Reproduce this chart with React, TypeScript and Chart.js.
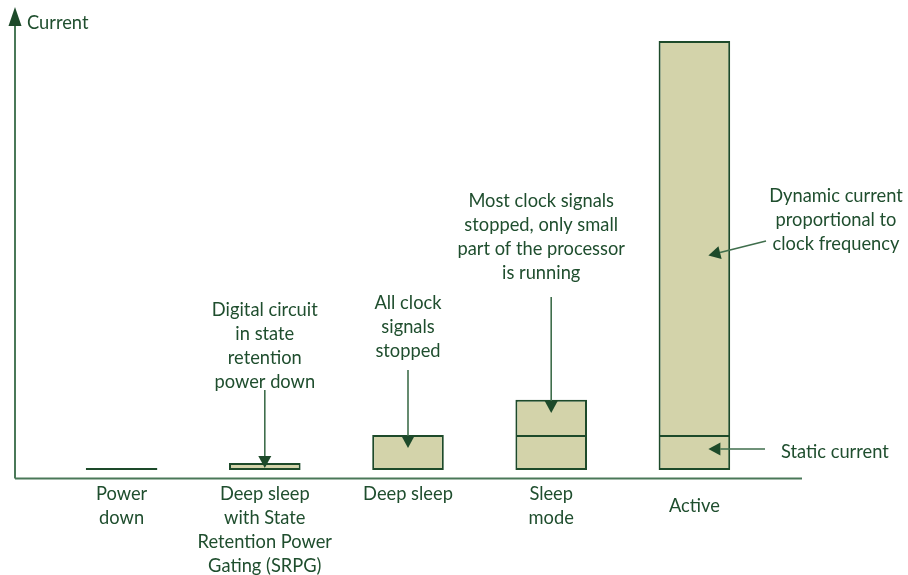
import React, { useEffect, useRef } from "react";
import { Chart, registerables } from "chart.js";

Chart.register(...registerables);

const categories = ["Power down", "Deep sleep with SRPG", "Deep sleep", "Sleep mode", "Active"];
const categoryLabelLines = [
  ["Power", "down"],
  ["Deep sleep", "with State", "Retention Power", "Gating (SRPG)"],
  ["Deep sleep"],
  ["Sleep", "mode"],
  ["Active"],
];
const staticCurrent = [0.2, 0.7, 3.5, 3.5, 3.5];
const dynamicCurrent = [null, null, null, 3.5, 39.3];

const yAxisTitle = "Current";
const noteSRPG = ["Digital circuit", "in state", "retention", "power down"];
const noteDeepSleep = ["All clock", "signals", "stopped"];
const noteSleep = ["Most clock signals", "stopped, only small", "part of the processor", "is running"];
const noteDynamic = ["Dynamic current", "proportional to", "clock frequency"];
const noteStatic = "Static current";

const DARK = "#1d4a2a";
const TEXT = "#1f4e2e";
const LINE = "#3f6e4c";
const AXIS = "#4a7858";
const FILL = "#d3d3aa";
const FONT = "18.3px Lato, 'Open Sans', sans-serif";
const LH = 24;

function arrow(ctx: CanvasRenderingContext2D, x1: number, y1: number, x2: number, y2: number) {
  const ang = Math.atan2(y2 - y1, x2 - x1);
  const len = 12;
  const hw = 6.5;
  const bx = x2 - Math.cos(ang) * len;
  const by = y2 - Math.sin(ang) * len;
  ctx.save();
  ctx.strokeStyle = LINE;
  ctx.lineWidth = 1.6;
  ctx.beginPath();
  ctx.moveTo(x1, y1);
  ctx.lineTo(bx, by);
  ctx.stroke();
  ctx.fillStyle = DARK;
  ctx.beginPath();
  ctx.moveTo(x2, y2);
  ctx.lineTo(bx + Math.sin(ang) * hw, by - Math.cos(ang) * hw);
  ctx.lineTo(bx - Math.sin(ang) * hw, by + Math.cos(ang) * hw);
  ctx.closePath();
  ctx.fill();
  ctx.restore();
}

function lines(ctx: CanvasRenderingContext2D, txt: string[], x: number, y: number, align: CanvasTextAlign = "center") {
  ctx.save();
  ctx.fillStyle = TEXT;
  ctx.font = FONT;
  ctx.textAlign = align;
  ctx.textBaseline = "middle";
  txt.forEach((t, i) => ctx.fillText(t, x, y + i * LH));
  ctx.restore();
}

const decorPlugin = {
  id: "decor",
  afterDatasetsDraw(chart: any) {
    const ctx: CanvasRenderingContext2D = chart.ctx;
    const xs = chart.scales.x;
    const ys = chart.scales.y;
    const cx = (i: number) => xs.getPixelForValue(i);
    const py = (v: number) => ys.getPixelForValue(v);

    // axes
    const ox = 15;
    const oy = py(0) + 8.5;
    ctx.save();
    ctx.strokeStyle = AXIS;
    ctx.lineWidth = 2;
    ctx.beginPath();
    ctx.moveTo(ox, oy);
    ctx.lineTo(802, oy);
    ctx.stroke();
    ctx.beginPath();
    ctx.moveTo(ox, oy);
    ctx.lineTo(ox, 24);
    ctx.stroke();
    ctx.fillStyle = DARK;
    ctx.beginPath();
    ctx.moveTo(ox, 7);
    ctx.lineTo(ox + 6.5, 26);
    ctx.lineTo(ox - 6.5, 26);
    ctx.closePath();
    ctx.fill();
    ctx.restore();
    lines(ctx, [yAxisTitle], 27, 23, "left");

    // category labels
    categoryLabelLines.forEach((ls, i) => {
      const y0 = i === 4 ? oy + 28 : oy + 16;
      lines(ctx, ls, cx(i), y0);
    });

    // annotations
    lines(ctx, noteSRPG, cx(1), 310);
    arrow(ctx, cx(1), 390, cx(1), py(0.2));

    lines(ctx, noteDeepSleep, cx(2), 303);
    arrow(ctx, cx(2), 370, cx(2), py(2.2));

    lines(ctx, noteSleep, cx(3) - 10, 201);
    arrow(ctx, cx(3), 297, cx(3), py(5.7));

    lines(ctx, noteDynamic, 836, 196);
    arrow(ctx, 766, 241, cx(4) + 14, py(21.4));

    arrow(ctx, 765, py(2.1), cx(4) + 14, py(2.1));
    lines(ctx, [noteStatic], 781, 452, "left");
  },
};

export default function App() {
  const ref = useRef<HTMLCanvasElement>(null);
  useEffect(() => {
    document.body.style.margin = "0";
    const chart = new Chart(ref.current!, {
      type: "bar",
      data: {
        labels: categories,
        datasets: [
          {
            label: "Static current",
            data: staticCurrent,
            backgroundColor: staticCurrent.map((_, i) => (i === 0 ? DARK : FILL)),
            borderColor: DARK,
            borderWidth: 2,
            borderSkipped: false,
            barPercentage: 0.5,
            categoryPercentage: 1,
          },
          {
            label: "Dynamic current",
            data: dynamicCurrent,
            backgroundColor: FILL,
            borderColor: DARK,
            borderWidth: 2,
            barPercentage: 0.5,
            categoryPercentage: 1,
          },
        ],
      },
      options: {
        responsive: false,
        animation: false,
        layout: { padding: { left: 50, right: 142, top: 9, bottom: 105 } },
        plugins: { legend: { display: false }, tooltip: { enabled: false } },
        scales: {
          x: { display: false, stacked: true },
          y: { display: false, stacked: true, min: 0, max: 46 },
        },
      },
      plugins: [decorPlugin],
    });
    return () => chart.destroy();
  }, []);
  return <canvas ref={ref} width={908} height={575} style={{ display: "block" }} />;
}
